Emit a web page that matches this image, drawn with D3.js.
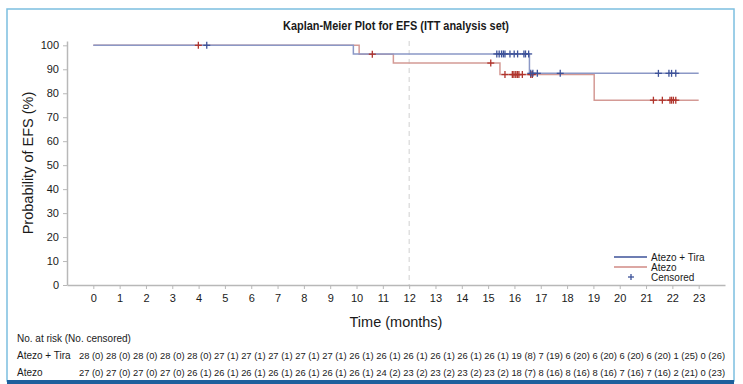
<!DOCTYPE html>
<html>
<head>
<meta charset="utf-8">
<script src="https://cdn.jsdelivr.net/npm/d3@7"></script>
<style>
  body { margin: 0; background: #fff; }
  svg text { font-family: "Liberation Sans", Arial, sans-serif; fill: #1a1a1a; }
</style>
</head>
<body>
<div id="chart"></div>
<script>
// survival steps
const tiraTimes = [0, 9.88, 16.57];
const tiraSurv = [100, 96.4, 88.3];
const atezoTimes = [0, 10.1, 11.4, 15.45, 19.03];
const atezoSurv = [100, 96.3, 92.6, 87.8, 77.1];
const endTime = 23;

// censored times
const tiraCensored = [4.31, 15.33, 15.42, 15.51, 15.58, 15.64, 15.83, 15.99, 16.12, 16.36, 16.42, 16.54,
                      16.62, 16.7, 16.87, 17.74, 21.47, 21.87, 21.97, 22.13];
const atezoCensored = [3.99, 10.6, 15.1, 15.64, 15.92, 15.98, 16.05, 16.11, 16.17, 16.3, 16.62, 16.68,
                       21.28, 21.62, 21.91, 21.97, 22.04, 22.13];

const xTicks = d3.range(0, 24);
const yTicks = d3.range(0, 101, 10);

const tiraRisk = ["28 (0)", "28 (0)", "28 (0)", "28 (0)", "28 (0)", "27 (1)", "27 (1)", "27 (1)", "27 (1)", "27 (1)",
                  "26 (1)", "26 (1)", "26 (1)", "26 (1)", "26 (1)", "26 (1)", "19 (8)", "7 (19)", "6 (20)", "6 (20)",
                  "6 (20)", "6 (20)", "1 (25)", "0 (26)"];
const atezoRisk = ["27 (0)", "27 (0)", "27 (0)", "27 (0)", "26 (1)", "26 (1)", "26 (1)", "26 (1)", "26 (1)", "26 (1)",
                   "26 (1)", "24 (2)", "23 (2)", "23 (2)", "23 (2)", "23 (2)", "18 (7)", "8 (16)", "8 (16)", "8 (16)",
                   "7 (16)", "7 (16)", "2 (21)", "0 (23)"];

const W = 743, H = 384;
const margin = {left: 67, right: 18, top: 41, bottom: 99};
const blueLine = "#8b98c6", redLine = "#d49a95";
const blueMark = "#3d5299", redMark = "#b0342c";

const svg = d3.select("#chart").append("svg")
    .attr("width", W).attr("height", H);

// frame
svg.append("rect").attr("x", 7).attr("y", 9).attr("width", 727).attr("height", 372)
    .attr("fill", "none").attr("stroke", "#7cbfe0").attr("stroke-width", 1.5);
svg.append("rect").attr("x", 7).attr("y", 380).attr("width", 727).attr("height", 4)
    .attr("fill", "#1e5f9c");

const x = d3.scaleLinear().domain([-1, 24]).range([margin.left, W - margin.right]);
const y = d3.scaleLinear().domain([0, 101.8]).range([H - margin.bottom, margin.top]);

// title
svg.append("text")
    .attr("x", (margin.left + W - margin.right) / 2).attr("y", 30)
    .attr("text-anchor", "middle").attr("font-size", 13.5).attr("font-weight", "bold")
    .attr("textLength", 226).attr("lengthAdjust", "spacingAndGlyphs")
    .text("Kaplan-Meier Plot for EFS (ITT analysis set)");

// dashed line at 12 months
svg.append("line")
    .attr("x1", x(12)).attr("x2", x(12))
    .attr("y1", y(101.8)).attr("y2", y(0))
    .attr("stroke", "#d0d0d0").attr("stroke-dasharray", "5,4");

// axes
const xAxis = svg.append("g")
    .attr("transform", `translate(0,${y(0)})`)
    .call(d3.axisBottom(x).tickValues(xTicks).tickSize(4).tickPadding(5).tickSizeOuter(0));
const yAxis = svg.append("g")
    .attr("transform", `translate(${margin.left},0)`)
    .call(d3.axisLeft(y).tickValues(yTicks).tickSize(4).tickPadding(4).tickSizeOuter(0));
[xAxis, yAxis].forEach(g => {
    g.select(".domain").attr("stroke", "#b8b8b8").attr("stroke-width", 1.5);
    g.selectAll(".tick line").attr("stroke", "#b8b8b8");
    g.selectAll(".tick text").attr("font-size", 11).attr("fill", "#1a1a1a")
        .attr("font-family", "Liberation Sans, Arial, sans-serif");
});

// axis titles
svg.append("text")
    .attr("transform", `translate(33,${(y(0) + y(101.8)) / 2}) rotate(-90)`)
    .attr("text-anchor", "middle").attr("font-size", 14.5)
    .text("Probability of EFS (%)");
svg.append("text")
    .attr("x", (margin.left + W - margin.right) / 2).attr("y", 327)
    .attr("text-anchor", "middle").attr("font-size", 14.5)
    .text("Time (months)");

// step curves
function stepPoints(times, surv) {
    const pts = times.map((t, i) => [t, surv[i]]);
    pts.push([endTime, surv[surv.length - 1]]);
    return pts;
}
function survAt(times, surv, t) {
    let s = surv[0];
    times.forEach((tt, i) => { if (tt <= t) s = surv[i]; });
    return s;
}
const line = d3.line().x(d => x(d[0])).y(d => y(d[1])).curve(d3.curveStepAfter);

svg.append("path").datum(stepPoints(atezoTimes, atezoSurv))
    .attr("d", line).attr("fill", "none").attr("stroke", redLine).attr("stroke-width", 1.5);
svg.append("path").datum(stepPoints(tiraTimes, tiraSurv))
    .attr("d", line).attr("fill", "none").attr("stroke", blueLine).attr("stroke-width", 1.5);

function drawCensored(times, stepT, stepS, color) {
    const g = svg.append("g").attr("stroke", color).attr("stroke-width", 1.3);
    times.forEach(t => {
        const cx = x(t), cy = y(survAt(stepT, stepS, t));
        g.append("line").attr("x1", cx - 3.5).attr("x2", cx + 3.5).attr("y1", cy).attr("y2", cy);
        g.append("line").attr("x1", cx).attr("x2", cx).attr("y1", cy - 3.5).attr("y2", cy + 3.5);
    });
}
drawCensored(atezoCensored, atezoTimes, atezoSurv, redMark);
drawCensored(tiraCensored, tiraTimes, tiraSurv, blueMark);

// legend
const legend = svg.append("g").attr("transform", `translate(614,257)`);
const legendItems = [
    {label: "Atezo + Tira", color: blueMark, type: "line"},
    {label: "Atezo", color: "#d08a85", type: "line"},
    {label: "Censored", color: blueMark, type: "cross"}
];
legendItems.forEach((d, i) => {
    const gy = i * 10;
    if (d.type === "line") {
        legend.append("line").attr("x1", 0).attr("x2", 33).attr("y1", gy).attr("y2", gy)
            .attr("stroke", d.color).attr("stroke-width", 1.5);
    } else {
        legend.append("line").attr("x1", 14).attr("x2", 20).attr("y1", gy).attr("y2", gy)
            .attr("stroke", d.color).attr("stroke-width", 1.3);
        legend.append("line").attr("x1", 17).attr("x2", 17).attr("y1", gy - 3).attr("y2", gy + 3)
            .attr("stroke", d.color).attr("stroke-width", 1.3);
    }
    legend.append("text").attr("x", 37).attr("y", gy + 3.5).attr("font-size", 10).text(d.label);
});

// number at risk table
svg.append("text").attr("x", 17).attr("y", 342).attr("font-size", 10)
    .text("No. at risk (No. censored)");
const riskRows = [["Atezo + Tira", tiraRisk], ["Atezo", atezoRisk]];
riskRows.forEach((r, i) => {
    const ry = 359 + i * 17;
    svg.append("text").attr("x", 17).attr("y", ry).attr("font-size", 10).text(r[0]);
    svg.append("text").attr("x", 79).attr("y", ry).attr("font-size", 9.5)
        .attr("textLength", 646).attr("lengthAdjust", "spacingAndGlyphs")
        .text(r[1].join(" "));
});
</script>
</body>
</html>
